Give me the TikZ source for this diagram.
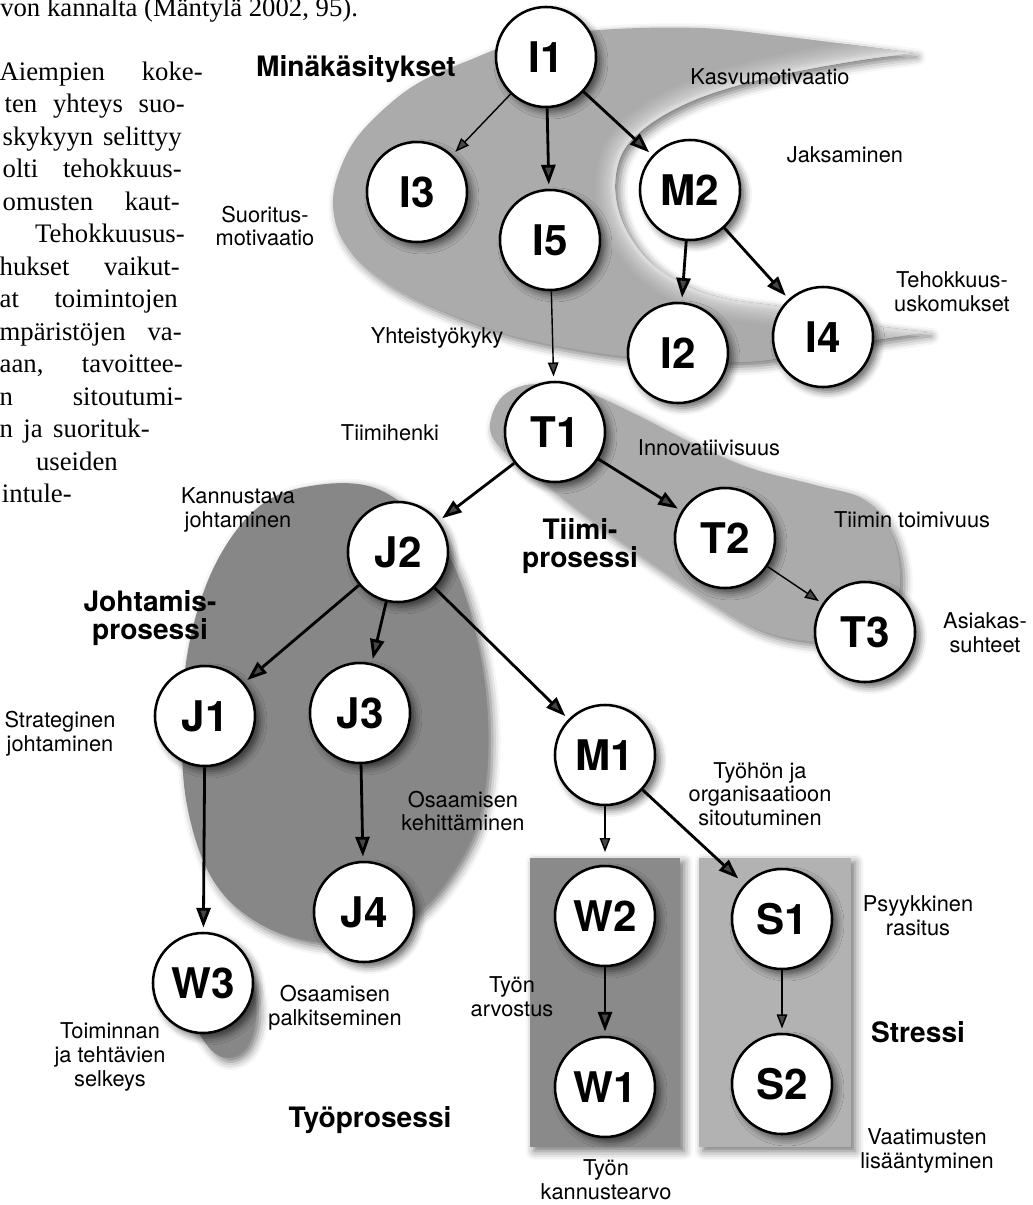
\documentclass[tikz,border=0pt]{standalone}
\usepackage{fontspec}
\setmainfont{TeX Gyre Heros}
\newfontfamily\pagefont{Liberation Serif}
\usetikzlibrary{arrows.meta,shadows.blur}

\definecolor{blobgray}{gray}{0.67}
\definecolor{darkblob}{gray}{0.53}
\definecolor{darkrect}{gray}{0.54}
\definecolor{lightrect}{gray}{0.70}

\tikzset{
  blob/.style={fill=#1, blur shadow={shadow xshift=3pt, shadow yshift=-3pt, shadow blur radius=6pt, shadow opacity=55}},
  factor/.style={circle, draw=black, line width=1.8pt, fill=white, minimum size=2.5cm, inner sep=0pt,
    font=\fontsize{30}{30}\selectfont\bfseries,
    blur shadow={shadow xshift=3.5pt, shadow yshift=-3.5pt, shadow blur radius=5pt, shadow opacity=60}},
  lbl/.style={align=center, inner sep=0pt, font=\fontsize{15.5}{16.8}\selectfont},
  grp/.style={align=center, inner sep=0pt, font=\fontsize{20}{20}\selectfont\bfseries},
  txt/.style={anchor=base east, inner sep=0pt, font=\pagefont\fontsize{19}{23}\selectfont},
  arr/.style={line width=2pt, -{Triangle[length=14pt, width=10pt]}, shorten >=3pt},
  thinarr/.style={line width=1pt, -{Triangle[length=10pt, width=7.5pt]}, shorten >=3pt},
}

\begin{document}
\begin{tikzpicture}[x=0.025cm, y=-0.025cm]
    \useasboundingbox (0,0) rectangle (1033,1205);

    % Page text beside the figure
    \node[txt, anchor=base west] (p0) at (0,16) {von kannalta (Mäntylä 2002, 95).};
    \node[txt] (p1) at (203,80) {\makebox[5.075cm][s]{Aiempien koke-}};
    \node[txt] (p2) at (185,112.5) {\makebox[4.5cm][s]{ten yhteys suo-}};
    \node[txt] (p3) at (182,145) {\makebox[4.475cm][s]{skykyyn selittyy}};
    \node[txt] (p4) at (182,177.5) {\makebox[4.475cm][s]{olti tehokkuus-}};
    \node[txt] (p5) at (180,210) {\makebox[4.425cm][s]{omusten kaut-}};
    \node[txt] (p6) at (185,242.5) {Tehokkuusus-};
    \node[txt] (p7) at (180,275) {\makebox[4.5cm][s]{hukset vaikut-}};
    \node[txt] (p8) at (178,307.5) {\makebox[4.45cm][s]{at toimintojen}};
    \node[txt] (p9) at (182,340) {\makebox[4.55cm][s]{mpäristöjen va-}};
    \node[txt] (p10) at (183,372.5) {\makebox[4.575cm][s]{aan, tavoittee-}};
    \node[txt] (p11) at (183,405) {\makebox[4.575cm][s]{n sitoutumi-}};
    \node[txt] (p12) at (150,437.5) {\makebox[3.75cm][s]{n ja suorituk-}};
    \node[txt] (p13) at (118,470) {useiden};
    \node[txt] (p14) at (72,502.5) {intule-};

    % Shaded areas
    \fill[blob=blobgray] plot[smooth, tension=0.6] coordinates {(913,53) (860,46) (780,36) (700,28) (600,30) (520,42) (470,60) (420,82) (385,108) (355,140) (338,175) (333,205) (340,235) (360,262) (395,288) (445,312) (510,335) (580,350) (640,358) (700,362) (760,361) (820,350) (875,340) (927,332)}
        -- plot[smooth, tension=0.6] coordinates {(927,332) (877,326) (820,314) (777,306) (727,299) (687,286) (650,262) (625,228) (615,190) (622,153) (647,126) (687,103) (735,86) (793,72) (860,60) (913,53)} -- cycle;
    \begin{scope}
        \clip plot[smooth, tension=0.6] coordinates {(913,53) (860,46) (780,36) (700,28) (600,30) (520,42) (470,60) (420,82) (385,108) (355,140) (338,175) (333,205) (340,235) (360,262) (395,288) (445,312) (510,335) (580,350) (640,358) (700,362) (760,361) (820,350) (875,340) (927,332)}
            -- plot[smooth, tension=0.6] coordinates {(927,332) (877,326) (820,314) (777,306) (727,299) (687,286) (650,262) (625,228) (615,190) (622,153) (647,126) (687,103) (735,86) (793,72) (860,60) (913,53)} -- cycle;
        \foreach \w/\g in {28/0.685, 25/0.70, 22/0.715, 19/0.73, 16/0.75, 13/0.77, 10/0.79, 7/0.82, 4/0.86} {
            \draw[line width=\w pt, color={rgb,1:red,\g;green,\g;blue,\g}] plot[smooth, tension=0.6] coordinates {(927,332) (877,326) (820,314) (777,306) (727,299) (687,286) (650,262) (625,228) (615,190) (622,153) (647,126) (687,103) (735,86) (793,72) (860,60) (913,53)};
        }
    \end{scope}
    \fill[blob=blobgray] plot[smooth cycle, tension=0.6] coordinates {(490,425) (503,396) (535,384) (585,392) (635,414) (690,442) (750,468) (815,485) (865,500) (892,535) (900,585) (885,625) (845,640) (800,640) (755,628) (710,602) (650,562) (585,515) (535,475) (500,447)};
    \fill[blob=darkblob] plot[smooth cycle, tension=0.6] coordinates {(305,487) (375,488) (435,535) (468,605) (487,705) (482,805) (450,875) (400,925) (330,943) (262,925) (213,880) (187,805) (182,720) (190,640) (215,565) (255,510)};
    \fill[blob=darkblob] plot[smooth cycle, tension=0.6] coordinates {(180,990) (200,1035) (222,1057) (245,1048) (256,1015) (250,980) (225,960) (195,965)};
    \fill[blob=darkrect] (530,858) rectangle (680,1147);
    \fill[blob=lightrect] (699,858) rectangle (851,1147);

    % Factors
    \node[factor] (I1) at (546,57) {I1};
    \node[factor] (I3) at (417,192) {I3};
    \node[factor] (I5) at (550,240) {I5};
    \node[factor] (M2) at (690,190) {M2};
    \node[factor] (I2) at (678,353) {I2};
    \node[factor] (I4) at (823,337) {I4};
    \node[factor] (T1) at (555,432) {T1};
    \node[factor] (T2) at (725,538) {T2};
    \node[factor] (T3) at (865,632) {T3};
    \node[factor] (J2) at (398,552) {J2};
    \node[factor] (J1) at (205,716) {J1};
    \node[factor] (J3) at (360,713) {J3};
    \node[factor] (J4) at (364,912) {J4};
    \node[factor] (W3) at (203,983) {W3};
    \node[factor] (M1) at (605,755) {M1};
    \node[factor] (W2) at (605,916) {W2};
    \node[factor] (W1) at (605,1087) {W1};
    \node[factor] (S1) at (782,919) {S1};
    \node[factor] (S2) at (782,1084) {S2};

    % Arrows
    \draw[thinarr] (I1) -- (I3);
    \draw[arr] (I1) -- (I5);
    \draw[arr] (I1) -- (M2);
    \draw[arr] (M2) -- (I2);
    \draw[arr] (M2) -- (I4);
    \draw[thinarr] (I5) -- (T1);
    \draw[arr] (T1) -- (T2);
    \draw[thinarr] (T2) -- (T3);
    \draw[arr] (T1) -- (J2);
    \draw[arr] (J2) -- (J1);
    \draw[arr] (J2) -- (J3);
    \draw[arr] (J2) -- (M1);
    \draw[arr] (J1) -- (W3);
    \draw[arr] (J3) -- (J4);
    \draw[thinarr, shorten >=9pt] (M1) -- (W2);
    \draw[arr, shorten >=6pt] (M1) -- (S1);
    \draw[arr] (W2) -- (W1);
    \draw[thinarr] (S1) -- (S2);

    % Labels
    \node[grp] (gmin) at (356,69) {Minäkäsitykset};
    \node[grp] (gtiimi) at (580,546) {Tiimi-\\prosessi};
    \node[grp] (gjoht) at (150,618) {Johtamis-\\prosessi};
    \node[grp] (gstress) at (918,1032) {Stressi};
    \node[grp] (gtyo) at (370,1120) {Työprosessi};

    \node[lbl] (kasvu) at (770,77) {Kasvumotivaatio};
    \node[lbl] (jaks) at (845,155) {Jaksaminen};
    \node[lbl] (suor) at (265,226) {Suoritus-\\motivaatio};
    \node[lbl] (teho) at (952,292) {Tehokkuus-\\uskomukset};
    \node[lbl] (yht) at (437,338) {Yhteistyökyky};
    \node[lbl] (henki) at (390,433) {Tiimihenki};
    \node[lbl] (innov) at (709,448) {Innovatiivisuus};
    \node[lbl] (kann) at (238,510) {Kannustava\\johtaminen};
    \node[lbl] (toim) at (912,520) {Tiimin toimivuus};
    \node[lbl] (asiak) at (985,633) {Asiakas-\\suhteet};
    \node[lbl] (strat) at (60,734) {Strateginen\\johtaminen};
    \node[lbl] (kehit) at (463,811) {Osaamisen\\kehittäminen};
    \node[lbl] (sitout) at (760,794) {Työhön ja\\organisaatioon\\sitoutuminen};
    \node[lbl] (arvos) at (512,997) {Työn\\arvostus};
    \node[lbl] (psyyk) at (918,916) {Psyykkinen\\rasitus};
    \node[lbl] (palk) at (335,1008) {Osaamisen\\palkitseminen};
    \node[lbl] (selk) at (110,1057) {Toiminnan\\ja tehtävien\\selkeys};
    \node[lbl] (vaat) at (927,1151) {Vaatimusten\\lisääntyminen};
    \node[lbl] (kannu) at (606,1180) {Työn\\kannustearvo};
\end{tikzpicture}
\end{document}
